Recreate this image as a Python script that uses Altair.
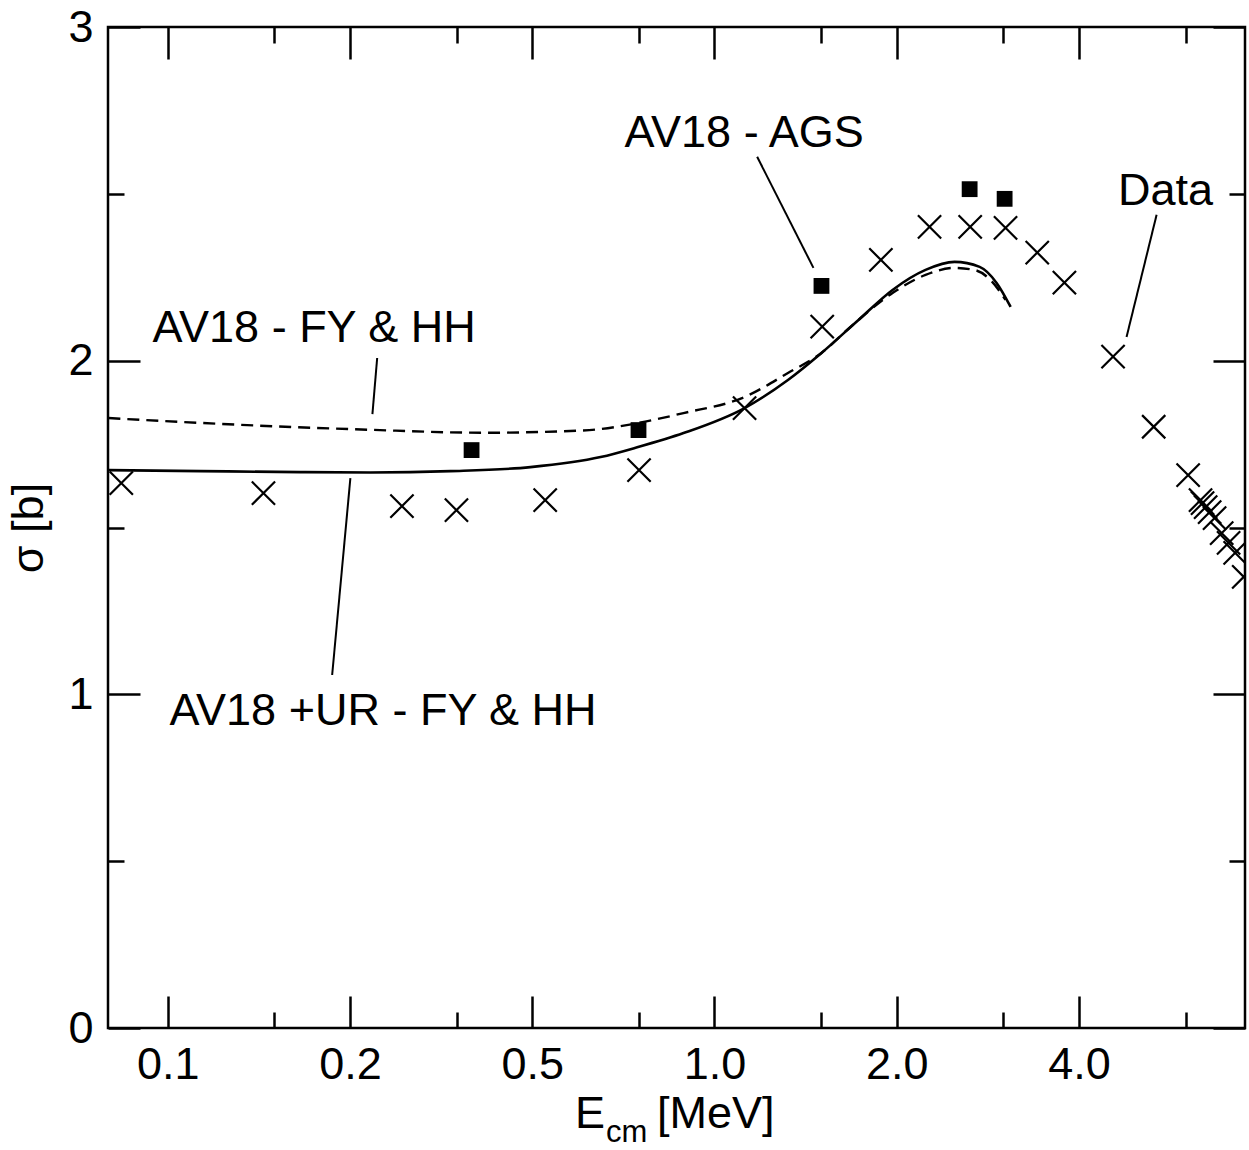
import altair as alt
import pandas as pd

# ---------------------------------------------------------------
# Horizontal positions are in "axis units": the i-th labelled tick
# of the E_cm axis sits at u = i (the axis labels are not a plain
# linear or log progression).
# ---------------------------------------------------------------
XTICK_POS = [0, 1, 2, 3, 4, 5]
XTICK_LABELS = ["0.1", "0.2", "0.5", "1.0", "2.0", "4.0"]
XMINOR_POS = [0.585, 1.585, 2.585, 3.585, 4.585, 5.585]
YTICK_POS = [0, 1, 2, 3]
YMINOR_POS = [0.5, 1.5, 2.5]
X_DOMAIN = [-0.328, 5.911]
Y_DOMAIN = [0, 3]

# Experimental data (crosses)
DATA_U = [-0.255, 0.525, 1.285, 1.584, 2.071, 2.586, 3.165, 3.591, 3.913,
          4.180, 4.403, 4.597, 4.771, 4.920, 5.187, 5.410, 5.599, 5.667,
          5.678, 5.695, 5.717, 5.744, 5.783, 5.821, 5.857, 5.904]
DATA_SIGMA = [1.633, 1.603, 1.564, 1.552, 1.582, 1.672, 1.858, 2.102, 2.302,
              2.401, 2.401, 2.398, 2.324, 2.234, 2.012, 1.802, 1.657, 1.582,
              1.573, 1.561, 1.546, 1.528, 1.483, 1.454, 1.424, 1.352]

# AV18 - AGS (filled squares)
AGS_U = [1.667, 2.583, 3.587, 4.400, 4.592]
AGS_SIGMA = [1.732, 1.792, 2.224, 2.514, 2.485]

# AV18 +UR - FY & HH (solid curve)
UR_U = [-0.326, 0.179, 0.728, 1.112, 1.551, 1.990, 2.375, 2.580, 2.830,
        3.165, 3.403, 3.587, 3.790, 3.977, 4.158, 4.317, 4.455, 4.548, 4.625]
UR_SIGMA = [1.672, 1.669, 1.666, 1.665, 1.669, 1.681, 1.711, 1.741, 1.783,
            1.858, 1.942, 2.023, 2.122, 2.212, 2.272, 2.296, 2.281, 2.233, 2.161]

# AV18 - FY & HH (dashed curve)
FY_U = [-0.326, 0.470, 1.101, 1.732, 2.149, 2.375, 2.580, 2.830, 3.165,
        3.403, 3.587, 3.746, 3.977, 4.158, 4.317, 4.432, 4.514, 4.597]
FY_SIGMA = [1.828, 1.806, 1.793, 1.784, 1.788, 1.795, 1.813, 1.843, 1.891,
            1.963, 2.023, 2.101, 2.203, 2.257, 2.278, 2.271, 2.242, 2.182]

# Annotation labels and their pointer lines
ANN_TEXT = ["AV18 - AGS", "Data", "AV18 - FY & HH", "AV18 +UR - FY & HH"]
ANN_U = [3.162, 5.475, 0.803, 1.181]
ANN_SIGMA = [2.640, 2.466, 2.057, 0.908]
PTR_U1 = [3.234, 5.426, 1.149, 1.002]
PTR_S1 = [2.611, 2.437, 2.008, 1.648]
PTR_U2 = [3.543, 5.261, 1.123, 0.902]
PTR_S2 = [2.278, 2.071, 1.840, 1.058]

FONT = "Liberation Sans"
FS = 45

data_df = pd.DataFrame({"u": DATA_U, "s": DATA_SIGMA})
ags_df = pd.DataFrame({"u": AGS_U, "s": AGS_SIGMA})
ur_df = pd.DataFrame({"u": UR_U, "s": UR_SIGMA})
fy_df = pd.DataFrame({"u": FY_U, "s": FY_SIGMA})
ann_df = pd.DataFrame({"u": ANN_U, "s": ANN_SIGMA, "t": ANN_TEXT})
ptr_df = pd.DataFrame({"u": PTR_U1, "s": PTR_S1, "u2": PTR_U2, "s2": PTR_S2})

xs = alt.Scale(domain=X_DOMAIN, nice=False, zero=False)
ys = alt.Scale(domain=Y_DOMAIN, nice=False, zero=False)

label_expr = "[" + ",".join("'%s'" % l for l in XTICK_LABELS) + "][round(datum.value)]"

MAJ = 32
MIN = 16
common = dict(domain=False, grid=False, title=None, tickColor="black", tickWidth=2.5)

ax_bottom_major = alt.Axis(orient="bottom", values=XTICK_POS, labelExpr=label_expr,
                           offset=-MAJ, tickSize=MAJ, labelPadding=14,
                           labelFontSize=FS, labelFont=FONT, labelColor="black",
                           labelFlush=False, labelOverlap=False, **common)
ax_bottom_minor = alt.Axis(orient="bottom", values=XMINOR_POS, offset=-MIN, tickSize=MIN,
                           labels=False, **common)
ax_top_major = alt.Axis(orient="top", values=XTICK_POS, offset=-MAJ, tickSize=MAJ,
                        labels=False, **common)
ax_top_minor = alt.Axis(orient="top", values=XMINOR_POS, offset=-MIN, tickSize=MIN,
                        labels=False, **common)

ax_left_major = alt.Axis(orient="left", values=YTICK_POS, format="d",
                         offset=-MAJ, tickSize=MAJ, labelPadding=15,
                         labelFontSize=FS, labelFont=FONT, labelColor="black",
                         labelFlush=False, labelOverlap=False,
                         domain=False, grid=False, tickColor="black", tickWidth=2.5,
                         title="σ [b]", titleFont=FONT, titleFontSize=FS,
                         titleFontWeight="normal", titleColor="black", titlePadding=16)
ax_left_minor = alt.Axis(orient="left", values=YMINOR_POS, offset=-MIN, tickSize=MIN,
                         labels=False, **common)
ax_right_major = alt.Axis(orient="right", values=YTICK_POS, offset=-MAJ, tickSize=MAJ,
                          labels=False, **common)
ax_right_minor = alt.Axis(orient="right", values=YMINOR_POS, offset=-MIN, tickSize=MIN,
                          labels=False, **common)

cross_path = "M-1,-1L1,1M-1,1L1,-1"

crosses = alt.Chart(data_df).mark_point(
    shape=cross_path, size=540, filled=False, stroke="black", strokeWidth=2.2,
    opacity=1, clip=True
).encode(
    x=alt.X("u:Q", scale=xs, axis=ax_bottom_major),
    y=alt.Y("s:Q", scale=ys, axis=ax_left_major),
)

squares = alt.Chart(ags_df).mark_point(
    shape="square", size=250, filled=True, color="black", opacity=1
).encode(
    x=alt.X("u:Q", scale=xs, axis=ax_bottom_minor),
    y=alt.Y("s:Q", scale=ys, axis=ax_left_minor),
)

solid = alt.Chart(ur_df).mark_line(
    color="black", strokeWidth=2.6, interpolate="monotone"
).encode(
    x=alt.X("u:Q", scale=xs, axis=ax_top_major),
    y=alt.Y("s:Q", scale=ys, axis=ax_right_major),
    order="u:Q",
)

dashed = alt.Chart(fy_df).mark_line(
    color="black", strokeWidth=2.4, strokeDash=[12, 7], interpolate="monotone"
).encode(
    x=alt.X("u:Q", scale=xs, axis=ax_top_minor),
    y=alt.Y("s:Q", scale=ys, axis=ax_right_minor),
    order="u:Q",
)

pointers = alt.Chart(ptr_df).mark_rule(color="black", strokeWidth=2).encode(
    x=alt.X("u:Q", scale=xs, axis=None),
    y=alt.Y("s:Q", scale=ys, axis=None),
    x2="u2:Q",
    y2="s2:Q",
)

labels = alt.Chart(ann_df).mark_text(
    align="center", baseline="alphabetic", fontSize=FS, font=FONT, color="black"
).encode(
    x=alt.X("u:Q", scale=xs, axis=None),
    y=alt.Y("s:Q", scale=ys, axis=None),
    text="t:N",
)

# x-axis title with subscript, built from three text pieces
t_E = alt.Chart(pd.DataFrame({"t": ["E"]})).mark_text(
    align="left", baseline="alphabetic", fontSize=FS, font=FONT, color="black"
).encode(text="t:N", x=alt.value(467), y=alt.value(1101))
t_cm = alt.Chart(pd.DataFrame({"t": ["cm"]})).mark_text(
    align="left", baseline="alphabetic", fontSize=31, font=FONT, color="black"
).encode(text="t:N", x=alt.value(498), y=alt.value(1115))
t_mev = alt.Chart(pd.DataFrame({"t": ["[MeV]"]})).mark_text(
    align="left", baseline="alphabetic", fontSize=FS, font=FONT, color="black"
).encode(text="t:N", x=alt.value(549), y=alt.value(1101))

chart = alt.layer(
    crosses, squares, solid, dashed, pointers, labels, t_E, t_cm, t_mev
).resolve_scale(
    x="shared", y="shared"
).resolve_axis(
    x="independent", y="independent"
).properties(
    width=1137, height=1001,
    autosize=alt.AutoSizeParams(type="none"),
    padding={"left": 108, "top": 27, "right": 4, "bottom": 122},
    background="white",
).configure_view(
    stroke="black", strokeWidth=2.5
)

chart.save("out.html", embed_options={"renderer": "svg", "actions": False})
